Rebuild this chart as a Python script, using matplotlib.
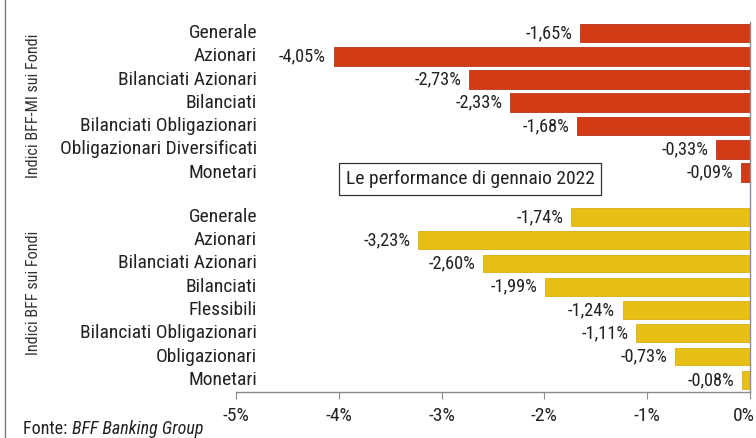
import matplotlib
matplotlib.use("Agg")
import matplotlib.pyplot as plt
from matplotlib import font_manager
from matplotlib.transforms import blended_transform_factory, offset_copy

# ---------------- data ----------------
top_labels = ["Generale", "Azionari", "Bilanciati Azionari", "Bilanciati",
              "Bilanciati Obligazionari", "Obligazionari Diversificati", "Monetari"]
top_values = [-1.65, -4.05, -2.73, -2.33, -1.68, -0.33, -0.09]
bottom_labels = ["Generale", "Azionari", "Bilanciati Azionari", "Bilanciati",
                 "Flessibili", "Bilanciati Obligazionari", "Obligazionari", "Monetari"]
bottom_values = [-1.74, -3.23, -2.60, -1.99, -1.24, -1.11, -0.73, -0.08]
top_group = "Indici BFF-MI sui Fondi"
bottom_group = "Indici BFF sui Fondi"
x_ticks = [-5, -4, -3, -2, -1, 0]
x_ticklabels = ["-5%", "-4%", "-3%", "-2%", "-1%", "0%"]
box_title = "Le performance di gennaio 2022"
source_prefix = "Fonte: "
source_name = "BFF Banking Group"

# ---------------- font selection (narrow if available) ----------------
names = {f.name for f in font_manager.fontManager.ttflist}
font_kw = dict(family="DejaVu Sans")
if "Roboto Condensed" in names:
    font_kw = dict(family="Roboto Condensed")
elif "Liberation Sans Narrow" in names:
    font_kw = dict(family="Liberation Sans Narrow")
elif any(f.name == "DejaVu Sans" and "Condensed" in f.fname for f in font_manager.fontManager.ttflist):
    font_kw = dict(family="DejaVu Sans", stretch="condensed")

RED = "#D23B14"
RED_EDGE = "#B8361A"
YEL = "#E8C015"
YEL_EDGE = "#D9AE14"
TXT = "#222222"

fig = plt.figure(figsize=(7.56, 4.38), dpi=100)
ax = fig.add_axes([236 / 756, (438 - 392) / 438, 514 / 756, 370 / 438])

gap = 1.9
top_pos = list(range(len(top_values)))
bottom_pos = [len(top_values) - 1 + gap + i for i in range(len(bottom_values))]

ax.barh(top_pos, top_values, height=0.8, color=RED, edgecolor=RED_EDGE, linewidth=0.6, zorder=2)
ax.barh(bottom_pos, bottom_values, height=0.76, color=YEL, edgecolor=YEL_EDGE, linewidth=0.6, zorder=2)

ax.set_xlim(-5, 0)
ax.set_ylim(bottom_pos[-1] + 0.52, -0.47)

for s in ["left", "top"]:
    ax.spines[s].set_visible(False)
ax.spines["bottom"].set_color("#8a8a8a")
ax.spines["right"].set_color("#8a8a9a")
ax.spines["bottom"].set_linewidth(1.0)
ax.spines["right"].set_linewidth(1.0)
ax.set_yticks([])
ax.set_xticks(x_ticks)
ax.set_xticklabels(x_ticklabels, color=TXT, fontsize=14, **font_kw)
ax.tick_params(axis="x", direction="out", length=5, color="#8a8a8a", pad=6)
last = ax.get_xticklabels()[-1]
last.set_horizontalalignment("right")
last.set_transform(offset_copy(last.get_transform(), fig=fig, x=5, y=0, units="dots"))

# category labels
lab_tr = blended_transform_factory(ax.transAxes, ax.transData)
for pos, lab in zip(top_pos + bottom_pos, top_labels + bottom_labels):
    ax.text(0.041, pos, lab, transform=lab_tr, ha="right", va="center",
            fontsize=14, color=TXT, **font_kw)

# value labels
for pos, v in zip(top_pos + bottom_pos, top_values + bottom_values):
    s = ("%.2f%%" % v).replace(".", ",")
    ax.annotate(s, xy=(v, pos), xytext=(-5.5, 0), textcoords="offset points",
                ha="right", va="center", fontsize=13.2, color=TXT, **font_kw)

# group labels
fig.text(34 / 756, 1 - 106 / 438, top_group, rotation=90, ha="center", va="center",
         fontsize=11.6, color="#333333", **font_kw)
fig.text(34 / 756, 1 - 293 / 438, bottom_group, rotation=90, ha="center", va="center",
         fontsize=11.6, color="#333333", **font_kw)

# boxed title
fig.text(470 / 756, 1 - 179 / 438, box_title, ha="center", va="center", fontsize=14, color=TXT,
         bbox=dict(boxstyle="square,pad=0.35", facecolor="white", edgecolor="#333333", linewidth=0.9),
         **font_kw)

# source
t1 = fig.text(23 / 756, 1 - 429 / 438, source_prefix, ha="left", va="center",
              fontsize=13, color=TXT, **font_kw)
fig.canvas.draw()
bb = t1.get_window_extent()
fig.text(bb.x1 / 756, 1 - 429 / 438, source_name, ha="left", va="center",
         fontsize=13, color=TXT, style="italic", **font_kw)

# left frame line
fig.add_artist(plt.Line2D([4.5 / 756, 4.5 / 756], [0, 1], transform=fig.transFigure,
                          color="#777777", linewidth=1.0))

fig.savefig("out.png", dpi=100)
